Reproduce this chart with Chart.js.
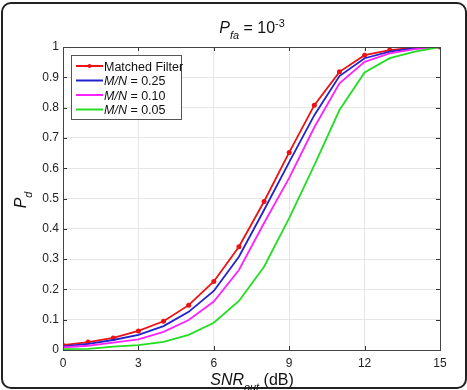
<!DOCTYPE html>
<html>
<head>
<meta charset="utf-8">
<script src="https://cdn.jsdelivr.net/npm/chart.js@4/dist/chart.umd.min.js"></script>
<style>
  body { margin: 0; background: #fff; }
  #frame { position: absolute; left: 1px; top: 2px; width: 462px; height: 383px; border: 2px solid #222; border-radius: 10px; }
  #c { position: absolute; left: 0; top: 0; }
</style>
</head>
<body>
<div id="frame"></div>
<canvas id="c" width="467" height="390"></canvas>
<script>
const snr = [0, 1, 2, 3, 4, 5, 6, 7, 8, 9, 10, 11, 12, 13, 14, 15];
const matched = [0.016, 0.026, 0.04, 0.063, 0.095, 0.148, 0.226, 0.341, 0.49, 0.652, 0.808, 0.918, 0.973, 0.99, 0.998, 1];
const mn25 = [0.012, 0.02, 0.033, 0.05, 0.079, 0.126, 0.195, 0.308, 0.462, 0.62, 0.775, 0.904, 0.963, 0.985, 0.996, 1];
const mn10 = [0.009, 0.014, 0.024, 0.035, 0.06, 0.099, 0.16, 0.264, 0.419, 0.568, 0.735, 0.88, 0.951, 0.979, 0.993, 1];
const mn05 = [0.003, 0.004, 0.011, 0.016, 0.027, 0.05, 0.09, 0.162, 0.275, 0.435, 0.61, 0.792, 0.916, 0.963, 0.985, 1];
const xTicks = [0, 3, 6, 9, 12, 15];
const yTicks = [0, 0.1, 0.2, 0.3, 0.4, 0.5, 0.6, 0.7, 0.8, 0.9, 1];

const FONT = '"Liberation Sans", Arial, sans-serif';
const colors = { mf: '#ee1111', m25: '#2222cc', m10: '#ff22ff', m05: '#22dd22' };

const pts = ys => ys.map((y, i) => ({ x: snr[i], y }));

// draws text runs with sub/superscripts; parts: [text, italic, shift]
function richText(ctx, parts, x, y, size, align) {
    const runs = parts.map(([t, it, sh]) => {
        const s = sh ? size * 0.68 : size;
        ctx.font = `${it ? 'italic ' : ''}${s}px ${FONT}`;
        return { t, it, sh, s, w: ctx.measureText(t).width };
    });
    const total = runs.reduce((a, r) => a + r.w, 0);
    let cx = align === 'center' ? x - total / 2 : x;
    ctx.textAlign = 'left';
    ctx.textBaseline = 'alphabetic';
    runs.forEach(r => {
        ctx.font = `${r.it ? 'italic ' : ''}${r.s}px ${FONT}`;
        ctx.fillText(r.t, cx, y + (r.sh || 0) * size);
        cx += r.w;
    });
}

const decor = {
    id: 'decor',
    afterDraw(chart) {
        const { ctx, chartArea: a } = chart;
        const xs = chart.scales.x, ys = chart.scales.y;
        ctx.save();
        // inward tick marks
        ctx.strokeStyle = '#333';
        ctx.lineWidth = 1;
        ctx.beginPath();
        xTicks.forEach(v => {
            const px = Math.round(xs.getPixelForValue(v)) + 0.5;
            ctx.moveTo(px, a.bottom); ctx.lineTo(px, a.bottom - 4);
            ctx.moveTo(px, a.top); ctx.lineTo(px, a.top + 4);
        });
        yTicks.forEach(v => {
            const py = Math.round(ys.getPixelForValue(v)) + 0.5;
            ctx.moveTo(a.left, py); ctx.lineTo(a.left + 4, py);
            ctx.moveTo(a.right, py); ctx.lineTo(a.right - 4, py);
        });
        ctx.stroke();
        ctx.strokeStyle = '#444';
        ctx.strokeRect(a.left + 0.5, a.top + 0.5, a.right - a.left, a.bottom - a.top);

        ctx.fillStyle = '#111';
        // title
        richText(ctx, [['P', true, 0], ['fa', true, 0.35], [' = 10', false, 0], ['-3', false, -0.4]], 252, 33, 16, 'center');
        // x label
        richText(ctx, [['SNR', true, 0], ['out', true, 0.35], [' (dB)', false, 0]], 252, 385, 16, 'center');
        // y label
        ctx.save();
        ctx.translate(26, 200);
        ctx.rotate(-Math.PI / 2);
        richText(ctx, [['P', true, 0], ['d', true, 0.35]], 0, 0, 16, 'center');
        ctx.restore();

        // legend
        const lx = 71, ly = 55, lw = 110, lh = 64;
        ctx.fillStyle = '#fff';
        ctx.fillRect(lx, ly, lw, lh);
        ctx.strokeStyle = '#555';
        ctx.strokeRect(lx + 0.5, ly + 0.5, lw, lh);
        const entries = [
            [colors.mf, [['Matched Filter', false, 0]], true],
            [colors.m25, [['M/N', true, 0], [' = 0.25', false, 0]], false],
            [colors.m10, [['M/N', true, 0], [' = 0.10', false, 0]], false],
            [colors.m05, [['M/N', true, 0], [' = 0.05', false, 0]], false]
        ];
        entries.forEach(([c, parts, mark], i) => {
            const yy = ly + 11 + i * 14.5;
            ctx.strokeStyle = c;
            ctx.lineWidth = 2;
            ctx.beginPath();
            ctx.moveTo(lx + 5, yy); ctx.lineTo(lx + 32, yy);
            ctx.stroke();
            if (mark) {
                ctx.fillStyle = c;
                ctx.beginPath();
                ctx.arc(lx + 18.5, yy, 2, 0, Math.PI * 2);
                ctx.fill();
            }
            ctx.fillStyle = '#111';
            richText(ctx, parts, lx + 33, yy + 4.5, 12.5, 'left');
        });
        ctx.restore();
    }
};

const line = (label, ys, color, markers) => ({
    label, data: pts(ys), borderColor: color, backgroundColor: color,
    borderWidth: 1.8, pointRadius: markers ? 2.5 : 0, pointBorderWidth: 0, tension: 0
});

new Chart(document.getElementById('c'), {
    type: 'line',
    data: {
        datasets: [
            line('M/N = 0.05', mn05, colors.m05, false),
            line('M/N = 0.10', mn10, colors.m10, false),
            line('M/N = 0.25', mn25, colors.m25, false),
            line('Matched Filter', matched, colors.mf, true)
        ]
    },
    options: {
        responsive: false,
        animation: false,
        layout: { padding: { left: 0, top: 47, right: 27, bottom: 0 } },
        plugins: { legend: { display: false }, tooltip: { enabled: false } },
        scales: {
            x: {
                type: 'linear', min: 0, max: 15,
                afterBuildTicks: s => { s.ticks = xTicks.map(v => ({ value: v })); },
                afterFit: s => { s.height = 40; },
                ticks: { color: '#222', font: { family: FONT, size: 12 }, padding: 6, maxRotation: 0 },
                grid: { color: '#e6e6e6', drawTicks: false },
                border: { display: false }
            },
            y: {
                min: 0, max: 1,
                afterBuildTicks: s => { s.ticks = yTicks.map(v => ({ value: v })); },
                afterFit: s => { s.width = 63; },
                ticks: { color: '#222', font: { family: FONT, size: 12 }, padding: 4, callback: v => String(Math.round(v * 10) / 10) },
                grid: { color: '#e6e6e6', drawTicks: false },
                border: { display: false }
            }
        }
    },
    plugins: [decor]
});
</script>
</body>
</html>
